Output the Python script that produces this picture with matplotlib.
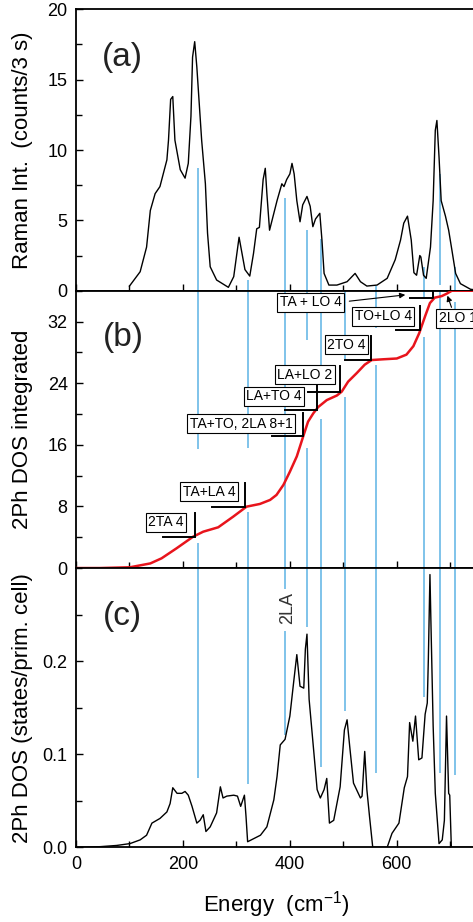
import matplotlib
matplotlib.use('Agg')
import matplotlib.pyplot as plt
from matplotlib.ticker import MultipleLocator

plt.rcParams['font.family'] = ['Liberation Sans', 'DejaVu Sans']
plt.rcParams['mathtext.fontset'] = 'custom'
plt.rcParams['mathtext.rm'] = 'Liberation Sans'
plt.rcParams['mathtext.it'] = 'Liberation Sans'

# (a) Raman spectrum
raman_e = [100, 120, 132, 139, 148, 157, 170, 173, 177, 181, 185, 195, 204, 210, 215, 218, 222,
           226, 235, 242, 246, 251, 263, 285, 295, 305, 316, 325, 332, 338, 343, 350, 354, 357,
           362, 370, 376, 385, 389, 394, 400, 404, 408, 413, 419, 424, 432, 438, 443, 448, 456,
           460, 464, 473, 488, 507, 522, 532, 544, 563, 582, 597, 607, 613, 620, 627, 632, 637,
           643, 645, 650, 655, 663, 668, 672, 675, 679, 683, 691, 697, 703, 710, 719, 738, 750]
raman_i = [0.33, 1.35, 3.1, 5.7, 6.9, 7.4, 9.3, 10.7, 13.6, 13.8, 10.7, 8.6, 8.0, 9.05, 12.4, 16.6, 17.7,
           15.9, 10.7, 7.6, 4.1, 1.7, 0.76, 0.24, 1.0, 3.8, 1.5, 1.04, 2.65, 4.4, 4.5, 7.9, 8.7, 6.9,
           4.3, 5.5, 6.4, 7.6, 7.4, 7.9, 8.3, 9.05, 8.3, 6.4, 4.9, 6.1, 6.7, 6.0, 4.55, 5.1, 5.5,
           3.6, 1.23, 0.4, 0.4, 0.64, 1.23, 0.64, 0.33, 0.4, 0.88, 2.2, 3.6, 4.8, 5.3, 3.6, 1.28, 1.1,
           2.5, 2.4, 1.1, 0.88, 3.1, 6.4, 11.4, 12.1, 9.5, 6.4, 5.3, 4.3, 2.9, 1.23, 0.5, 0.1, 0.05]

# (b) integrated 2Ph DOS
int_e = [0, 45, 101, 139, 160, 188, 219, 238, 266, 294, 319, 344, 363, 375, 388, 400, 413, 425,
         434, 444, 453, 469, 488, 497, 509, 525, 540, 553, 575, 600, 618, 631, 642, 653, 662,
         671, 684, 693, 703, 750]
int_v = [0, 0, 0.1, 0.6, 1.26, 2.56, 4.07, 4.72, 5.29, 6.67, 7.97, 8.32, 8.84, 9.49, 10.8, 12.5,
         14.5, 17.1, 19.0, 20.1, 20.9, 21.8, 22.4, 22.9, 24.2, 25.3, 26.4, 27.0, 27.1, 27.2, 27.7,
         28.8, 30.5, 32.7, 34.4, 35.1, 35.3, 35.6, 36.0, 36.0]

# (c) 2Ph DOS
dos_e = [0, 45, 76, 101, 120, 132, 142, 157, 170, 176, 181, 189, 198, 204, 210, 217, 226, 232, 238,
         243, 251, 263, 270, 275, 282, 295, 302, 308, 315, 318, 321, 345, 357, 370, 376, 382, 391,
         400, 407, 413, 419, 426, 429, 432, 436, 445, 451, 457, 464, 469, 474, 482, 494, 502, 507,
         512, 519, 532, 535, 540, 544, 549, 555, 582, 591, 604, 614, 620, 624, 630, 635, 641, 647,
         653, 657, 659, 662, 664, 668, 672, 679, 685, 689, 693, 697, 699, 702, 750]
dos_v = [0, 0.0007, 0.002, 0.004, 0.008, 0.013, 0.026, 0.031, 0.038, 0.047, 0.064, 0.058, 0.058,
         0.06, 0.056, 0.044, 0.026, 0.029, 0.035, 0.017, 0.022, 0.037, 0.065, 0.053, 0.055, 0.056,
         0.055, 0.044, 0.056, 0.033, 0.006, 0.013, 0.022, 0.051, 0.076, 0.110, 0.116, 0.141, 0.177,
         0.207, 0.173, 0.171, 0.213, 0.229, 0.159, 0.101, 0.062, 0.053, 0.062, 0.074, 0.026, 0.029,
         0.065, 0.126, 0.137, 0.108, 0.069, 0.053, 0.055, 0.103, 0.062, 0.033, 0, 0, 0.015, 0.026,
         0.064, 0.076, 0.134, 0.114, 0.141, 0.094, 0.096, 0.143, 0.155, 0.202, 0.293, 0.237, 0.130,
         0.058, 0.004, 0.008, 0.029, 0.141, 0.058, 0.056, 0, 0]

# blue marker lines: energies and visible (top, bottom) pieces in each panel
mark_e = [229, 322, 390, 432, 459, 504, 561, 650, 680, 708]
seg_a = [[(8.7, 0)], [(0.76, 0)], [(6.57, 0)], [(4.3, 0)], [(3.7, 0)], [], [(0.3, 0)],
         [(1.7, 0)], [(8.3, 0.4)], [(1.7, 0)]]
seg_b = [[(36, 15.5), (3.25, 0)], [(36, 15.6), (7.3, 0)], [(36, 0)], [(36, 29.6), (15.6, 0)],
         [(36, 26), (19.4, 0)], [(36, 27), (22.2, 0)], [(36, 31.2), (26.4, 0)],
         [(36, 34.9), (30, 0)], [(36, 0)], [(34.5, 0)]]
seg_c = [[(0.3, 0.074)], [(0.3, 0.068)], [(0.3, 0.277), (0.232, 0.121)], [(0.3, 0.237)],
         [(0.3, 0.086)], [(0.3, 0.146)], [(0.3, 0.08)], [(0.3, 0.162)], [(0.3, 0.08)],
         [(0.3, 0.078)]]

# labels in panel (b): text, corner point on curve, text centre, bracket left end / top
lab_txt = ['2TA 4', 'TA+LA 4', 'TA+TO, 2LA 8+1', 'LA+TO 4', 'LA+LO 2', '2TO 4', 'TO+LO 4']
lab_e = [223, 317, 425, 451, 494, 551, 643]
lab_v = [4.07, 7.97, 17.1, 20.5, 22.8, 27.0, 30.9]
lab_te = [168, 249, 309, 370, 428, 506, 575]
lab_tv = [5.96, 9.9, 18.7, 22.3, 25.1, 29.0, 32.7]
lab_left = [162, 254, 366, 391, 434, 503, 598]
lab_top = [7.2, 11.1, 20.1, 23.8, 26.2, 30.1, 34.0]

blue = '#5cb3e4'
fig = plt.figure(figsize=(4.73, 9.22), dpi=100)
left, width = 76 / 473, 401 / 473
ax_a = fig.add_axes([left, 0.6847, width, 0.3052])
ax_b = fig.add_axes([left, 0.3839, width, 0.3008])
ax_c = fig.add_axes([left, 0.0810, width, 0.3029])

for ax, segs in [(ax_a, seg_a), (ax_b, seg_b), (ax_c, seg_c)]:
    for e, pieces in zip(mark_e, segs):
        for top, bot in pieces:
            ax.vlines(e, bot, top, color=blue, lw=1.1, zorder=1)

ax_a.plot(raman_e, raman_i, color='black', lw=1.0, zorder=3)
ax_b.plot(int_e, int_v, color='#e8141c', lw=1.8, zorder=3)
ax_c.plot(dos_e, dos_v, color='black', lw=1.0, zorder=3)

box = dict(boxstyle='square,pad=0.18', fc='white', ec='black', lw=0.8)

# labels with brackets
for t, e, v, te, tv, l, top in zip(lab_txt, lab_e, lab_v, lab_te, lab_tv, lab_left, lab_top):
    ax_b.plot([l, e, e], [v, v, top], color='black', lw=1.4, zorder=4, solid_joinstyle='miter')
    ax_b.text(te, tv, t, ha='center', va='center', fontsize=10, zorder=5, bbox=box)

ax_b.plot([625, 668, 668], [35.0, 35.0, 35.85], color='black', lw=1.4, zorder=4)
ax_b.annotate('', xy=(621, 35.5), xytext=(506, 34.6), zorder=5,
              arrowprops=dict(arrowstyle='-|>', color='black', lw=0.8, mutation_scale=8))
ax_b.text(439, 34.5, 'TA + LO 4', ha='center', va='center', fontsize=10, zorder=5, bbox=box)
ax_b.annotate('', xy=(693, 35.7), xytext=(704, 33.5), zorder=5,
              arrowprops=dict(arrowstyle='-|>', color='black', lw=0.8, mutation_scale=8))
ax_b.text(678, 32.4, '2LO 1', ha='left', va='center', fontsize=10, zorder=5, clip_on=False,
          bbox=box)

ax_c.text(395, 0.257, '2LA', rotation=90, ha='center', va='center', fontsize=13, color='#333333')

ax_a.set_ylim(0, 20)
ax_b.set_ylim(0, 36)
ax_c.set_ylim(0, 0.30)
ax_a.yaxis.set_major_locator(MultipleLocator(5))
ax_a.yaxis.set_minor_locator(MultipleLocator(2.5))
ax_b.set_yticks([0, 8, 16, 24, 32])
ax_b.yaxis.set_minor_locator(MultipleLocator(4))
ax_c.set_yticks([0.0, 0.1, 0.2])
ax_c.set_yticklabels(['0.0', '0.1', '0.2'])
ax_c.yaxis.set_minor_locator(MultipleLocator(0.05))

for ax in (ax_a, ax_b, ax_c):
    ax.set_xlim(0, 750)
    ax.xaxis.set_major_locator(MultipleLocator(200))
    ax.xaxis.set_minor_locator(MultipleLocator(100))
    ax.tick_params(which='both', direction='in', labelsize=13, width=1.0)
    ax.tick_params(which='major', length=5, pad=6)
    ax.tick_params(which='minor', length=4)
    for s in ax.spines.values():
        s.set_linewidth(1.3)
ax_a.tick_params(axis='x', labelbottom=False)
ax_b.tick_params(axis='x', labelbottom=False)

ax_a.text(0.115, 0.827, '(a)', transform=ax_a.transAxes, fontsize=24, ha='center', va='center', color='#222222')
ax_b.text(0.117, 0.833, '(b)', transform=ax_b.transAxes, fontsize=24, ha='center', va='center', color='#222222')
ax_c.text(0.117, 0.825, '(c)', transform=ax_c.transAxes, fontsize=24, ha='center', va='center', color='#222222')

ax_a.set_ylabel('Raman Int.  (counts/3 s)', fontsize=16)
ax_b.set_ylabel('2Ph DOS integrated', fontsize=16)
ax_c.set_ylabel('2Ph DOS (states/prim. cell)', fontsize=16)
for ax in (ax_a, ax_b, ax_c):
    ax.yaxis.set_label_coords(-0.107, 0.5)
ax_c.set_xlabel('Energy  (cm$^{-1}$)', fontsize=16)
ax_c.xaxis.set_label_coords(0.5, -0.15)

plt.savefig('out.png', dpi=100)
